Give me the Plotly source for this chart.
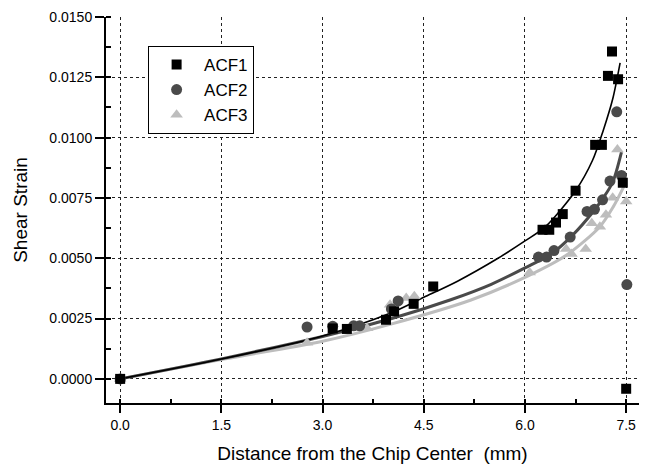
import plotly.graph_objects as go

# Measured shear strain vs. distance from the chip center
acf1_x = [0.0, 3.15, 3.36, 3.94, 4.06, 4.35, 4.64, 6.26, 6.36, 6.46, 6.56, 6.75,
          7.04, 7.14, 7.23, 7.29, 7.38, 7.45, 7.50]
acf1_y = [0.0, 0.00209, 0.00207, 0.00245, 0.00280, 0.00311, 0.00383, 0.00618, 0.00618,
          0.00648, 0.00683, 0.00780, 0.00970, 0.00970, 0.01256, 0.01357, 0.01242,
          0.00813, -0.00041]

acf2_x = [0.0, 2.77, 3.15, 3.46, 3.55, 4.02, 4.12, 6.20, 6.32, 6.43, 6.67, 6.92,
          7.03, 7.15, 7.26, 7.36, 7.43, 7.51]
acf2_y = [0.0, 0.00215, 0.00218, 0.00220, 0.00220, 0.00290, 0.00323, 0.00505, 0.00505,
          0.00532, 0.00588, 0.00694, 0.00703, 0.00742, 0.00820, 0.01107, 0.00843, 0.00391]

acf3_x = [0.0, 2.77, 3.66, 4.00, 4.24, 4.36, 6.07, 6.61, 6.69, 6.90, 6.99, 7.11,
          7.20, 7.30, 7.37, 7.50]
acf3_y = [0.0, 0.00150, 0.00210, 0.00307, 0.00335, 0.00342, 0.00441, 0.00538, 0.00518,
          0.00538, 0.00645, 0.00631, 0.00680, 0.00751, 0.00951, 0.00735]

# Fitted trend curves
fit1_x = [0.0, 1.5, 3.0, 4.0, 4.5, 5.0, 5.6, 6.0, 6.3, 6.75, 7.0, 7.16, 7.3, 7.41]
fit1_y = [0.0, 0.00082, 0.00178, 0.00272, 0.00338, 0.00405, 0.00500, 0.00572, 0.00630,
          0.00780, 0.00905, 0.01030, 0.01160, 0.01310]
fit2_x = [0.0, 1.5, 3.0, 4.0, 4.9, 5.5, 6.0, 6.4, 6.71, 7.01, 7.16, 7.3, 7.43]
fit2_y = [0.0, 0.00083, 0.00176, 0.00248, 0.00328, 0.00392, 0.00460, 0.00520, 0.00597,
          0.00693, 0.00750, 0.00815, 0.00940]
fit3_x = [0.0, 1.5, 3.0, 4.0, 5.2, 6.07, 6.6, 7.11, 7.31, 7.47]
fit3_y = [0.0, 0.00080, 0.00156, 0.00226, 0.00327, 0.00430, 0.00510, 0.00631, 0.00714,
          0.00800]

names = ["ACF1", "ACF2", "ACF3"]
colors = ["#000000", "#4a4a4a", "#bdbdbd"]
symbols = ["square", "circle", "triangle-up"]
line_widths = [1.6, 3.0, 3.0]

FONT = "Liberation Sans, Arial, sans-serif"
X_RANGE = [-0.21, 7.69]
Y_RANGE = [-0.001, 0.015]

fig = go.Figure()

fits = [(fit1_x, fit1_y), (fit2_x, fit2_y), (fit3_x, fit3_y)]
for i in [2, 1, 0]:
    fx, fy = fits[i]
    fig.add_trace(go.Scatter(
        x=fx, y=fy, mode="lines", line=dict(color=colors[i], width=line_widths[i],
                                            shape="spline", smoothing=0.8),
        showlegend=False, hoverinfo="skip"))

data = [(acf1_x, acf1_y), (acf2_x, acf2_y), (acf3_x, acf3_y)]
sizes = [10, 11, 11]
traces = []
for i in range(3):
    dx, dy = data[i]
    traces.append(go.Scatter(
        x=dx, y=dy, mode="markers", name=names[i],
        marker=dict(symbol=symbols[i], color=colors[i], size=sizes[i], line=dict(width=0))))
# draw lighter series first so darker markers sit on top, keep legend order
for i in [2, 1, 0]:
    traces[i].legendrank = i + 1
    fig.add_trace(traces[i])

fig.update_layout(
    width=648, height=465,
    margin=dict(l=106, r=9, t=17, b=62),
    paper_bgcolor="white", plot_bgcolor="white",
    font=dict(family=FONT, color="black", size=14),
    showlegend=True,
    legend=dict(x=0.079, y=0.925, xanchor="left", yanchor="top",
                bordercolor="black", borderwidth=1, bgcolor="white",
                font=dict(size=17, family=FONT), itemwidth=45,
                tracegroupgap=0),
    xaxis=dict(
        range=X_RANGE, tick0=0, dtick=1.5, tickformat=".1f", automargin=False,
        ticks="outside", ticklen=8, tickwidth=1.5, tickcolor="black",
        showline=True, linewidth=2, linecolor="black",
        showgrid=True, gridcolor="#222222", griddash="dot", gridwidth=1,
        zeroline=False,
        minor=dict(ticks="inside", ticklen=4, tickwidth=1.5, tickcolor="black",
                   tick0=0, dtick=0.75, showgrid=False),
        title=dict(text="Distance from the Chip Center &nbsp;(mm)",
                   font=dict(size=19, family=FONT), standoff=15),
        tickfont=dict(size=14, family=FONT),
    ),
    yaxis=dict(
        range=Y_RANGE, tick0=0, dtick=0.0025, tickformat=".4f", automargin=False,
        ticks="outside", ticklen=9, tickwidth=1.5, tickcolor="black",
        showline=True, linewidth=2, linecolor="black",
        showgrid=True, gridcolor="#222222", griddash="dot", gridwidth=1,
        zeroline=False,
        minor=dict(ticks="inside", ticklen=5, tickwidth=1.5, tickcolor="black",
                   tick0=0, dtick=0.00125, showgrid=False),
        title=dict(text="Shear Strain", font=dict(size=19, family=FONT), standoff=17),
        tickfont=dict(size=14, family=FONT),
    ),
    xaxis2=dict(
        overlaying="x", anchor="y", side="bottom", range=X_RANGE, automargin=False,
        tick0=0, dtick=1.5, ticks="inside", ticklen=8, tickwidth=1.5, tickcolor="black",
        mirror="ticks", showline=True, linewidth=2, linecolor="black",
        showticklabels=False, showgrid=False, zeroline=False,
    ),
    yaxis2=dict(
        overlaying="y", anchor="x", side="left", range=Y_RANGE, automargin=False,
        tick0=0, dtick=0.0025, ticks="inside", ticklen=9, tickwidth=1.5, tickcolor="black",
        mirror="ticks", showline=True, linewidth=2, linecolor="black",
        showticklabels=False, showgrid=False, zeroline=False,
    ),
)

fig.write_html("out.html")
